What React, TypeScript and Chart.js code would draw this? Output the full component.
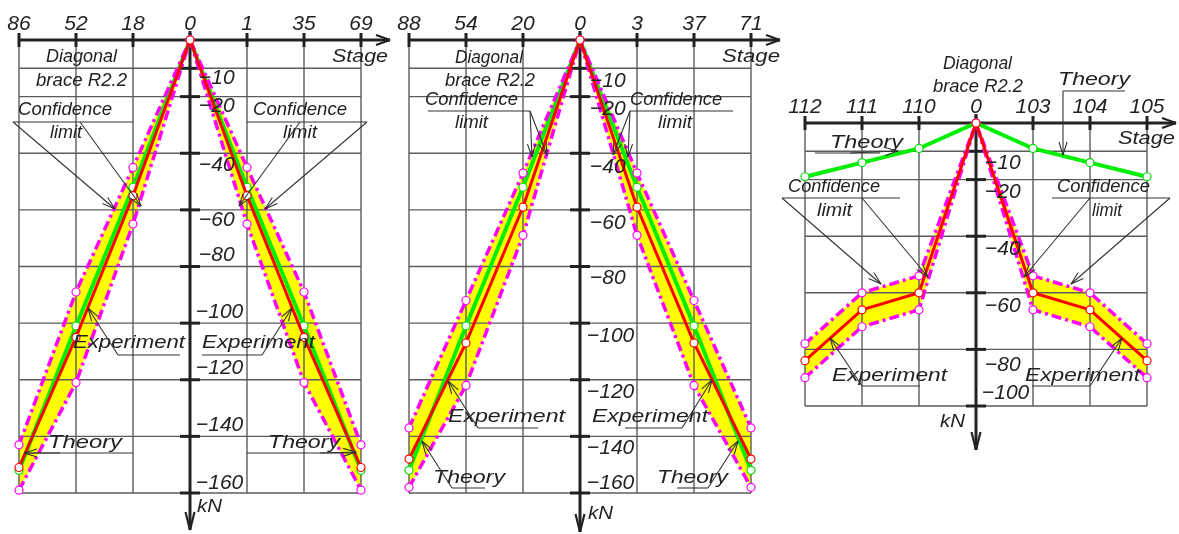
import { useEffect, useRef } from "react";
import { Chart, registerables } from "chart.js";
Chart.register(...registerables);

// ---------- data ----------
const positions = [-3, -2, -1, 0, 1, 2, 3];

// Panel 1
const stages1 = ["86", "52", "18", "0", "1", "35", "69"];
const theory1 = [-152, -101, -52, 0, -52, -101, -152];
const experiment1 = [-151, -105, -55, 0, -55, -105, -151];
const upper1 = [-143, -89, -45, 0, -45, -89, -143];
const lower1 = [-159, -121, -65, 0, -65, -121, -159];
const kTicks1 = [-10, -20, -40, -60, -80, -100, -120, -140, -160];
const kLabels1 = ["−10", "−20", "−40", "−60", "−80", "−100", "−120", "−140", "−160"];

// Panel 2
const stages2 = ["88", "54", "20", "0", "3", "37", "71"];
const theory2 = [-152, -101, -52, 0, -52, -101, -152];
const experiment2 = [-148, -107, -59, 0, -59, -107, -148];
const upper2 = [-137, -92, -47, 0, -47, -92, -137];
const lower2 = [-158, -122, -69, 0, -69, -122, -158];
const kTicks2 = [-10, -20, -40, -60, -80, -100, -120, -140, -160];
const kLabels2 = ["−10", "−20", "−40", "−60", "−80", "−100", "−120", "−140", "−160"];

// Panel 3
const stages3 = ["112", "111", "110", "0", "103", "104", "105"];
const theory3 = [-19, -14, -9, 0, -9, -14, -19];
const experiment3 = [-84, -66, -60, 0, -60, -66, -84];
const upper3 = [-78, -60, -54, 0, -54, -60, -78];
const lower3 = [-90, -72, -66, 0, -66, -72, -90];
const kTicks3 = [-10, -20, -40, -60, -80, -100];
const kLabels3 = ["−10", "−20", "−40", "−60", "−80", "−100"];

// ---------- layout / annotations ----------
type T = [string, number, number, number];
type L = [number, number, number, number];

const panels = [
  {
    stages: stages1, theory: theory1, experiment: experiment1, upper: upper1, lower: lower1,
    kTicks: kTicks1, kLabels: kLabels1, yMin: -160,
    pad: { left: 19, right: 1179 - 361, top: 40, bottom: 534 - 493 },
    labelDx: 9, labelDy: [10, 10, 12, 10, -11, -11, -12, -11, -10], vArrow: 37,
    texts: [
      ["Diagonal", 46, 117, 57], ["brace R2.2", 36, 127, 81], ["Stage", 332, 388, 57],
      ["Confidence", 18, 112, 110], ["limit", 50, 82, 133],
      ["Confidence", 253, 347, 110], ["limit", 283, 317, 133],
      ["Experiment", 73, 185, 343], ["Experiment", 202, 315, 343],
      ["Theory", 48, 122, 443], ["Theory", 268, 340, 443], ["kN", 197, 222, 507],
    ] as T[],
    lines: [
      [13, 122, 133, 122], [247, 122, 367, 122], [118, 355, 180, 355], [202, 355, 262, 355],
      [27, 453, 133, 453], [247, 453, 357, 453],
    ] as L[],
    arrows: [
      [13, 122, 115, 209], [80, 122, 141, 206], [367, 122, 265, 209], [300, 122, 239, 206],
      [118, 355, 88, 308], [262, 355, 292, 308], [60, 453, 24, 453], [320, 453, 356, 452],
    ] as L[],
  },
  {
    stages: stages2, theory: theory2, experiment: experiment2, upper: upper2, lower: lower2,
    kTicks: kTicks2, kLabels: kLabels2, yMin: -160,
    pad: { left: 409, right: 1179 - 751, top: 40, bottom: 534 - 493 },
    labelDx: 10, labelDy: [13, 13, 14, 13, 12, 13, 12, 12, -10], vArrow: 39,
    texts: [
      ["Diagonal", 455, 523, 58], ["brace R2.2", 445, 535, 81], ["Stage", 722, 780, 57],
      ["Confidence", 425, 518, 100], ["limit", 455, 488, 123],
      ["Confidence", 630, 722, 100], ["limit", 658, 692, 123],
      ["Experiment", 448, 565, 417], ["Experiment", 592, 708, 417],
      ["Theory", 433, 505, 478], ["Theory", 657, 728, 478], ["kN", 588, 613, 514],
    ] as T[],
    lines: [
      [428, 111, 530, 111], [630, 111, 733, 111], [478, 428, 538, 428], [625, 428, 682, 428],
      [452, 488, 485, 488], [677, 488, 708, 488],
    ] as L[],
    arrows: [
      [530, 111, 532, 157], [530, 111, 547, 155], [630, 111, 628, 157], [630, 111, 613, 155],
      [478, 428, 448, 381], [682, 428, 712, 380], [452, 488, 422, 441], [708, 488, 738, 441],
    ] as L[],
  },
  {
    stages: stages3, theory: theory3, experiment: experiment3, upper: upper3, lower: lower3,
    kTicks: kTicks3, kLabels: kLabels3, yMin: -100,
    pad: { left: 805, right: 1179 - 1147, top: 123, bottom: 534 - 406 },
    labelDx: 9, labelDy: [12, 13, 13, 13, 16, -13], vArrow: 44,
    texts: [
      ["Diagonal", 943, 1012, 64], ["brace R2.2", 933, 1023, 87],
      ["Theory", 1058, 1130, 80], ["Theory", 830, 903, 143], ["Stage", 1118, 1175, 139],
      ["Confidence", 788, 880, 187], ["limit", 817, 852, 211],
      ["Confidence", 1057, 1150, 187], ["limit", 1092, 1122, 211],
      ["Experiment", 832, 947, 376], ["Experiment", 1025, 1140, 376], ["kN", 940, 965, 422],
    ] as T[],
    lines: [
      [1063, 91, 1125, 91], [815, 153, 880, 153], [782, 198, 900, 198], [1052, 198, 1170, 198],
      [862, 386, 920, 386], [1032, 386, 1090, 386],
    ] as L[],
    arrows: [
      [1063, 91, 1063, 155], [850, 153, 898, 151],
      [782, 198, 881, 284], [862, 198, 928, 277], [1170, 198, 1071, 284], [1090, 198, 1024, 277],
      [862, 386, 830, 338], [1090, 386, 1122, 338],
    ] as L[],
  },
];

const FONT = '"Liberation Sans", "DejaVu Sans", sans-serif';
const INK = "#222";

function seg(ctx: CanvasRenderingContext2D, x1: number, y1: number, x2: number, y2: number) {
  ctx.beginPath();
  ctx.moveTo(x1, y1);
  ctx.lineTo(x2, y2);
  ctx.stroke();
}

function arrowHead(ctx: CanvasRenderingContext2D, x1: number, y1: number, x2: number, y2: number, len: number, half: number) {
  const a = Math.atan2(y2 - y1, x2 - x1);
  const ux = Math.cos(a), uy = Math.sin(a);
  const bx = x2 - ux * len, by = y2 - uy * len;
  seg(ctx, x2, y2, bx - uy * half, by + ux * half);
  seg(ctx, x2, y2, bx + uy * half, by - ux * half);
}

function fitText(ctx: CanvasRenderingContext2D, text: string, x0: number, x1: number, cy: number, size: number) {
  ctx.save();
  ctx.font = `italic ${size}px ${FONT}`;
  const m = ctx.measureText(text).width;
  const sx = (x1 - x0) / m;
  ctx.translate((x0 + x1) / 2, cy);
  ctx.scale(sx, 1);
  ctx.textAlign = "center";
  ctx.textBaseline = "middle";
  ctx.fillStyle = INK;
  ctx.fillText(text, 0, 0);
  ctx.restore();
}

function makePlugin(p: any, idx: number) {
  return {
    id: "drawing" + idx,
    beforeDatasetsDraw(chart: any) {
      const { ctx, chartArea: a, scales } = chart;
      const xs = scales.x, ys = scales.y;
      const ax = xs.getPixelForValue(0), ay = ys.getPixelForValue(0);
      ctx.save();
      ctx.lineCap = "butt";
      // grid
      ctx.strokeStyle = "#5c5c5c";
      ctx.lineWidth = 1.4;
      p.kTicks.forEach((v: number) => {
        const y = ys.getPixelForValue(v);
        seg(ctx, a.left, y, a.right, y);
      });
      positions.forEach((v) => {
        if (v === 0) return;
        const x = xs.getPixelForValue(v);
        seg(ctx, x, ay, x, a.bottom);
      });
      // stage axis
      ctx.strokeStyle = INK;
      ctx.lineWidth = 3;
      const tipX = a.right + 29;
      seg(ctx, a.left, ay, tipX, ay);
      ctx.lineWidth = 2.2;
      arrowHead(ctx, a.left, ay, tipX, ay, 14, 5);
      ctx.lineWidth = 3;
      positions.forEach((v) => {
        const x = xs.getPixelForValue(v);
        seg(ctx, x, ay - 7, x, ay + 7);
      });
      // kN axis
      const tipY = a.bottom + p.vArrow;
      seg(ctx, ax, ay - 9, ax, tipY);
      ctx.lineWidth = 2.2;
      arrowHead(ctx, ax, ay, ax, tipY, 18, 4.5);
      ctx.lineWidth = 3;
      p.kTicks.forEach((v: number) => {
        const y = ys.getPixelForValue(v);
        seg(ctx, ax - 10, y, ax + 10, y);
      });
      ctx.restore();
    },
    afterDraw(chart: any) {
      const { ctx, scales } = chart;
      const xs = scales.x, ys = scales.y;
      const ax = xs.getPixelForValue(0), ay = ys.getPixelForValue(0);
      ctx.save();
      ctx.fillStyle = INK;
      // stage labels
      ctx.font = `italic 21px ${FONT}`;
      ctx.textAlign = "center";
      ctx.textBaseline = "middle";
      positions.forEach((v, i) => {
        ctx.fillText(p.stages[i], xs.getPixelForValue(v), ay - 16);
      });
      // kN labels
      ctx.textAlign = "left";
      p.kTicks.forEach((v: number, i: number) => {
        const y = ys.getPixelForValue(v);
        const dx = p.kLabels[i].length > 3 ? p.labelDx - 3 : p.labelDx;
        ctx.fillText(p.kLabels[i], ax + dx, y + p.labelDy[i]);
      });
      // annotation texts
      p.texts.forEach((t: T) => fitText(ctx, t[0], t[1], t[2], t[3], 19));
      // underlines
      ctx.strokeStyle = "#333";
      ctx.lineWidth = 1.1;
      p.lines.forEach((l: L) => seg(ctx, l[0], l[1], l[2], l[3]));
      // leaders with arrows
      p.arrows.forEach((l: L) => {
        seg(ctx, l[0], l[1], l[2], l[3]);
        arrowHead(ctx, l[0], l[1], l[2], l[3], 13, 4);
      });
      ctx.restore();
    },
  };
}

const pts = (arr: number[]) => positions.map((x, i) => ({ x, y: arr[i] }));

function makeConfig(p: any, idx: number): any {
  const common = { tension: 0, clip: false, pointRadius: 4, pointBackgroundColor: "#ffffff", pointBorderWidth: 1.2 };
  return {
    type: "line",
    data: {
      datasets: [
        { ...common, data: pts(p.experiment), borderColor: "#ff0000", pointBorderColor: "#ff0000", borderWidth: 3, fill: false },
        { ...common, data: pts(p.upper), borderColor: "#ff00ff", pointBorderColor: "#ff00ff", borderWidth: 3.5, borderDash: [10, 4, 3, 4], fill: 2, backgroundColor: "#ffff00" },
        { ...common, data: pts(p.lower), borderColor: "#ff00ff", pointBorderColor: "#ff00ff", borderWidth: 3.5, borderDash: [10, 4, 3, 4], fill: false },
        { ...common, data: pts(p.theory), borderColor: "#00ee00", pointBorderColor: "#00dd00", borderWidth: 4, fill: false },
      ],
    },
    options: {
      animation: false,
      responsive: false,
      devicePixelRatio: 1,
      events: [],
      layout: { padding: p.pad },
      scales: {
        x: { type: "linear", min: -3, max: 3, display: false },
        y: { type: "linear", min: p.yMin, max: 0, display: false },
      },
      plugins: {
        legend: { display: false },
        tooltip: { enabled: false },
        filler: { drawTime: "beforeDatasetsDraw" },
      },
    },
    plugins: [makePlugin(p, idx)],
  };
}

export default function App() {
  const r0 = useRef<HTMLCanvasElement>(null);
  const r1 = useRef<HTMLCanvasElement>(null);
  const r2 = useRef<HTMLCanvasElement>(null);
  useEffect(() => {
    const refs = [r0, r1, r2];
    const charts = panels.map((p, i) => new Chart(refs[i].current as HTMLCanvasElement, makeConfig(p, i)));
    return () => charts.forEach((c) => c.destroy());
  }, []);
  const st: any = { position: "absolute", left: 0, top: 0 };
  return (
    <div style={{ position: "absolute", left: 0, top: 0, width: 1179, height: 534, background: "#fff", overflow: "hidden" }}>
      <canvas ref={r0} width={1179} height={534} style={st} />
      <canvas ref={r1} width={1179} height={534} style={st} />
      <canvas ref={r2} width={1179} height={534} style={st} />
    </div>
  );
}
